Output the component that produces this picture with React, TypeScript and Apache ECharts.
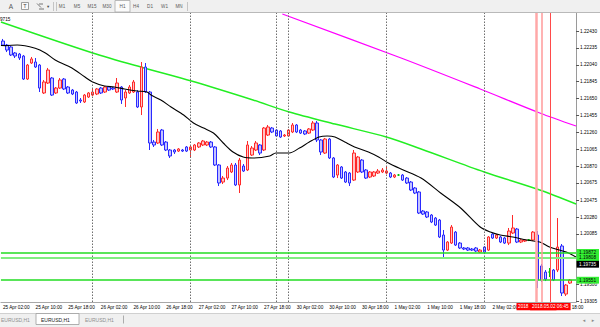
import React, { useEffect, useRef } from "react";
import * as echarts from "echarts";

// ---- time axis (hourly bars) ----
const days = [
  { label: "25 Apr", from: 2, to: 23 },
  { label: "26 Apr", from: 0, to: 23 },
  { label: "27 Apr", from: 0, to: 23 },
  { label: "30 Apr", from: 0, to: 23 },
  { label: "1 May", from: 0, to: 23 },
  { label: "2 May", from: 0, to: 21 },
];
const categories: string[] = [];
for (const d of days) for (let h = d.from; h <= d.to; h++) categories.push(`${d.label} ${String(h).padStart(2, "0")}:00`);
categories.push("");

// ---- OHLC ----
const opens = [
  1.22314, 1.22268, 1.22245, 1.22176, 1.22164, 1.22141, 1.21875, 1.22060, 1.22072, 1.22037,
  1.21714, 1.21829, 1.21887, 1.21714, 1.21771, 1.21875, 1.21783, 1.21748, 1.21725, 1.21633,
  1.21610, 1.21667, 1.21690, 1.21702, 1.21771, 1.21725, 1.21783, 1.21771, 1.21725, 1.21783,
  1.21656, 1.21714, 1.21725, 1.21725, 1.21552, 1.22014, 1.21725, 1.21147, 1.21136, 1.21286,
  1.21147, 1.21055, 1.21055, 1.21043, 1.21055, 1.21090, 1.21055, 1.21055, 1.21090, 1.21113,
  1.21113, 1.21147, 1.21090, 1.20882, 1.20685, 1.20731, 1.20801, 1.20882, 1.20651, 1.20870,
  1.20824, 1.20997, 1.21055, 1.21113, 1.21055, 1.21228, 1.21309, 1.21286, 1.21275, 1.21217,
  1.21217, 1.21263, 1.21344, 1.21286, 1.21275, 1.21251, 1.21286, 1.21367, 1.21171, 1.21020,
  1.21182, 1.20963, 1.20766, 1.20859, 1.20801, 1.20789, 1.20708, 1.20801, 1.20939, 1.20824,
  1.20743, 1.20755, 1.20789, 1.20801, 1.20789, 1.20789, 1.20743, 1.20766, 1.20766, 1.20731,
  1.20685, 1.20616, 1.20570, 1.20350, 1.20339, 1.20304, 1.20269, 1.20246, 1.20073, 1.19899,
  1.19980, 1.20107, 1.19980, 1.19923, 1.19923, 1.19911, 1.19923, 1.19876, 1.19934, 1.19899,
  1.20084, 1.20038, 1.20050, 1.20038, 1.19980, 1.20096, 1.20142, 1.19992, 1.20003, 1.20015,
  1.20015, 1.20073, 1.19715, 1.19645, 1.19645, 1.19668, 1.19668, 1.19946, 1.19391, 1.19518,
];
const closes = [
  1.22268, 1.22210, 1.22153, 1.22141, 1.22118, 1.21875, 1.22037, 1.22107, 1.22014, 1.21771,
  1.21841, 1.21979, 1.21690, 1.21771, 1.21864, 1.21760, 1.21714, 1.21702, 1.21598, 1.21621,
  1.21690, 1.21714, 1.21725, 1.21760, 1.21714, 1.21783, 1.21748, 1.21760, 1.21829, 1.21633,
  1.21725, 1.21783, 1.21841, 1.21552, 1.22014, 1.21725, 1.21136, 1.21113, 1.21263, 1.21113,
  1.21055, 1.20986, 1.21032, 1.21067, 1.21043, 1.21043, 1.21090, 1.21113, 1.21136, 1.21159,
  1.21147, 1.21090, 1.20882, 1.20674, 1.20731, 1.20847, 1.20882, 1.20651, 1.20939, 1.20812,
  1.21113, 1.21078, 1.21136, 1.21020, 1.21309, 1.21321, 1.21263, 1.21217, 1.21205, 1.21228,
  1.21286, 1.21344, 1.21263, 1.21251, 1.21240, 1.21298, 1.21367, 1.21171, 1.21032, 1.21182,
  1.20963, 1.20743, 1.20882, 1.20731, 1.20685, 1.20674, 1.21020, 1.20974, 1.20801, 1.20731,
  1.20801, 1.20801, 1.20812, 1.20824, 1.20812, 1.20743, 1.20766, 1.20766, 1.20708, 1.20674,
  1.20593, 1.20558, 1.20327, 1.20315, 1.20281, 1.20223, 1.20188, 1.20050, 1.19899, 1.19992,
  1.20165, 1.19957, 1.19923, 1.19911, 1.19899, 1.19899, 1.19888, 1.19899, 1.19876, 1.20050,
  1.20038, 1.20073, 1.19992, 1.19980, 1.20119, 1.20154, 1.19992, 1.20015, 1.20015, 1.20015,
  1.20107, 1.19553, 1.19553, 1.19564, 1.19645, 1.19553, 1.19934, 1.19403, 1.19495, 1.19553,
];
const lows = [
  1.22257, 1.22187, 1.22141, 1.22118, 1.22095, 1.21864, 1.21864, 1.22049, 1.22003, 1.21725,
  1.21702, 1.21818, 1.21679, 1.21702, 1.21760, 1.21748, 1.21702, 1.21690, 1.21587, 1.21598,
  1.21598, 1.21656, 1.21679, 1.21690, 1.21702, 1.21714, 1.21737, 1.21748, 1.21714, 1.21587,
  1.21552, 1.21702, 1.21714, 1.21540, 1.21459, 1.21714, 1.21055, 1.21090, 1.21124, 1.21101,
  1.21043, 1.20963, 1.21009, 1.21032, 1.21032, 1.21032, 1.20963, 1.21043, 1.21078, 1.21101,
  1.21101, 1.21078, 1.20870, 1.20639, 1.20662, 1.20708, 1.20789, 1.20639, 1.20558, 1.20801,
  1.20812, 1.20986, 1.21043, 1.20997, 1.21043, 1.21217, 1.21251, 1.21205, 1.21194, 1.21205,
  1.21205, 1.21251, 1.21251, 1.21240, 1.21228, 1.21240, 1.21275, 1.21147, 1.20997, 1.21009,
  1.20951, 1.20731, 1.20731, 1.20720, 1.20674, 1.20639, 1.20697, 1.20789, 1.20789, 1.20720,
  1.20731, 1.20743, 1.20778, 1.20789, 1.20778, 1.20731, 1.20731, 1.20755, 1.20697, 1.20662,
  1.20581, 1.20546, 1.20315, 1.20304, 1.20269, 1.20211, 1.20177, 1.20038, 1.19807, 1.19888,
  1.19969, 1.19946, 1.19911, 1.19899, 1.19888, 1.19888, 1.19876, 1.19865, 1.19853, 1.19888,
  1.20027, 1.20027, 1.19980, 1.19969, 1.19957, 1.20084, 1.19980, 1.19980, 1.19992, 1.20003,
  1.20003, 1.19460, 1.19530, 1.19541, 1.19587, 1.19541, 1.19645, 1.19368, 1.19368, 1.19507,
];
const highs = [
  1.22338, 1.22280, 1.22257, 1.22187, 1.22176, 1.22153, 1.22049, 1.22130, 1.22118, 1.22049,
  1.21864, 1.22003, 1.21898, 1.21783, 1.21887, 1.21887, 1.21794, 1.21760, 1.21737, 1.21656,
  1.21702, 1.21725, 1.21760, 1.21771, 1.21783, 1.21794, 1.21794, 1.21783, 1.21887, 1.21794,
  1.21748, 1.21806, 1.21864, 1.21748, 1.22072, 1.22060, 1.21737, 1.21171, 1.21298, 1.21298,
  1.21159, 1.21067, 1.21067, 1.21078, 1.21067, 1.21101, 1.21101, 1.21124, 1.21147, 1.21171,
  1.21159, 1.21159, 1.21101, 1.20893, 1.20755, 1.20870, 1.20905, 1.20905, 1.20963, 1.20893,
  1.21159, 1.21101, 1.21159, 1.21124, 1.21321, 1.21344, 1.21321, 1.21298, 1.21286, 1.21240,
  1.21298, 1.21367, 1.21355, 1.21298, 1.21286, 1.21309, 1.21390, 1.21390, 1.21182, 1.21194,
  1.21194, 1.20974, 1.20893, 1.20870, 1.20812, 1.20801, 1.21055, 1.20986, 1.20951, 1.20835,
  1.20812, 1.20812, 1.20835, 1.20847, 1.20859, 1.20801, 1.20778, 1.20778, 1.20778, 1.20743,
  1.20697, 1.20627, 1.20581, 1.20362, 1.20350, 1.20315, 1.20281, 1.20258, 1.20131, 1.20003,
  1.20188, 1.20119, 1.19992, 1.19934, 1.19934, 1.19923, 1.19934, 1.19911, 1.19946, 1.20061,
  1.20096, 1.20084, 1.20061, 1.20050, 1.20154, 1.20304, 1.20154, 1.20027, 1.20027, 1.20027,
  1.20119, 1.20119, 1.19738, 1.19668, 1.19692, 1.19680, 1.20269, 1.19969, 1.19507, 1.19564,
];

// ---- indicator lines, read as [bar position, price] ----
const fastMA: [number, number][] = [
  [-0.5, 1.22262], [0.7, 1.22261], [3.5, 1.22268], [7.9, 1.2223], [10.4, 1.22176], [12.8, 1.22095],
  [16.9, 1.22003], [20.1, 1.21898], [22, 1.21841], [24.9, 1.21794], [27.3, 1.21783], [29.8, 1.2176],
  [32.9, 1.21737], [35.3, 1.21725], [36.3, 1.2169], [38.7, 1.21633], [41.2, 1.21552], [44.3, 1.21459],
  [46.7, 1.21367], [49.2, 1.21309], [51.6, 1.21251], [54, 1.21136], [56.4, 1.21032], [58.9, 1.20974],
  [61.3, 1.20963], [65.4, 1.20986], [66.9, 1.2102], [70.2, 1.2102], [72.7, 1.21078], [75.1, 1.21147],
  [77.5, 1.21205], [79.5, 1.21217], [81.4, 1.21205], [83.8, 1.21147], [86.2, 1.2109], [89.6, 1.21032],
  [92.1, 1.20974], [94.5, 1.20905], [97.6, 1.20835], [102.5, 1.20731], [107.3, 1.20558], [112.2, 1.20385],
  [117, 1.20165], [119.5, 1.20107], [121.9, 1.20073], [125, 1.2005], [128.4, 1.20015], [131.6, 1.19992],
  [134, 1.19934], [136.4, 1.19899], [138.1, 1.19876], [140.5, 1.19819],
];
const midMA: [number, number][] = [
  [-0.5, 1.22534], [22, 1.22176], [34.6, 1.22003], [46.2, 1.21852], [61.3, 1.21633], [70.2, 1.21494],
  [81.4, 1.21355], [94, 1.21205], [102.5, 1.21067], [118, 1.20801], [131.6, 1.20593], [140.5, 1.20431],
];
const slowMA: [number, number][] = [
  [68.5, 1.22626], [97.6, 1.22118], [117, 1.2176], [131.6, 1.21483], [140.5, 1.21332],
];

// ---- levels / axis ----
const priceTicks = [1.2243, 1.22235, 1.2204, 1.21845, 1.2165, 1.21455, 1.2126, 1.21065, 1.2087, 1.20675, 1.20475, 1.2028, 1.20085, 1.195, 1.19305];
const greenLevels = [1.19872, 1.19808, 1.19551];
const currentPrice = 1.19735;
const separatorBars = ["26 Apr 00:00", "27 Apr 00:00", "27 Apr 21:00", "30 Apr 00:00", "1 May 00:00", "2 May 00:00"];
const redLines = [130.8, 132.1, 134.2];
const redLineTimes = ["2018", "", "2018.05.02 06:45"];
const tfButtons = ["M1", "M5", "M15", "M30", "H1", "H4", "D1", "W1", "MN"];
const tabs = ["EURUSD,H1", "EURUSD,H1", "EURUSD,H1"];

const FONT = "Liberation Sans, Arial, sans-serif";
const FS = 4.7;

function buildOption() {
  const candleData = opens.map((o, i) => [o, closes[i], lows[i], highs[i]]);
  const levelColors = ["#22dd22", "#7fee7f", "#22dd22"];
  const levelWidths = [1.5, 2, 1.5];

  const sepLines = separatorBars.map((c) => ({
    xAxis: categories.indexOf(c),
    lineStyle: { color: "#6e6e6e", type: [1.5, 1.5], width: 1 },
    label: { show: false },
  }));
  const levelLines = greenLevels.map((v, k) => ({
    yAxis: v,
    lineStyle: { color: levelColors[k], type: "solid", width: levelWidths[k] },
    label: {
      show: true, position: "end", distance: 0.5, formatter: v.toFixed(5),
      backgroundColor: "#33ee33", color: "#000", fontSize: FS, fontFamily: FONT,
      padding: [1, 3, 0.8, 2.5],
    },
  }));
  const priceLine = {
    yAxis: currentPrice,
    lineStyle: { color: "rgba(0,0,0,0)", width: 1, type: "solid" },
    label: {
      show: true, position: "end", distance: 0.5, formatter: currentPrice.toFixed(5),
      backgroundColor: "#000", color: "#fff", fontSize: FS, fontFamily: FONT,
      padding: [1, 3, 0.8, 2.5], opacity: 1,
    },
  };
  const redColors = ["#ffa8a8", "#ff9a9a", "#ff4a4a"];
  const redWidths = [2.5, 1.5, 1];
  const redPads = [[1.2, 28, 1, 1.5], [1.2, 2, 1, 2], [1.2, 2, 1, 2]];
  const vLines = redLines.map((x, k) => ({
    xAxis: x,
    lineStyle: { color: redColors[k], width: redWidths[k], type: "solid" },
    label: redLineTimes[k]
      ? {
          show: true, position: "start", distance: 1, formatter: redLineTimes[k],
          backgroundColor: "#ff0000", color: "#fff", fontSize: FS, fontFamily: FONT,
          padding: redPads[k],
        }
      : { show: false },
  }));

  const graphics: any[] = [
    // toolbar
    { type: "rect", shape: { x: 0, y: 0, width: 600, height: 12.5 }, style: { fill: "#f0f0f0" }, z: 100 },
    { type: "line", shape: { x1: 0, y1: 12.5, x2: 600, y2: 12.5 }, style: { stroke: "#b9b9b9", lineWidth: 1 }, z: 100 },
    { type: "text", x: 11, y: 6.5, style: { text: "A", fontSize: 6.5, fill: "#555", align: "center", verticalAlign: "middle", fontFamily: FONT }, z: 101 },
    { type: "rect", shape: { x: 21.5, y: 2.5, width: 7, height: 7 }, style: { fill: "#fafafa", stroke: "#888", lineWidth: 0.8 }, z: 101 },
    { type: "text", x: 25, y: 6.3, style: { text: "T", fontSize: 5.5, fill: "#444", align: "center", verticalAlign: "middle", fontFamily: FONT }, z: 102 },
    { type: "line", shape: { x1: 37, y1: 3.5, x2: 41, y2: 7.5 }, style: { stroke: "#555", lineWidth: 0.8 }, z: 101 },
    { type: "line", shape: { x1: 39, y1: 4, x2: 43, y2: 4 }, style: { stroke: "#555", lineWidth: 0.8 }, z: 101 },
    { type: "line", shape: { x1: 39, y1: 9, x2: 44, y2: 9 }, style: { stroke: "#555", lineWidth: 0.8 }, z: 101 },
    { type: "text", x: 48, y: 6.5, style: { text: "▾", fontSize: 4.5, fill: "#444", align: "center", verticalAlign: "middle", fontFamily: "DejaVu Sans" }, z: 101 },
    { type: "line", shape: { x1: 53.5, y1: 2, x2: 53.5, y2: 11 }, style: { stroke: "#c4c4c4", lineWidth: 1 }, z: 101 },
    { type: "line", shape: { x1: 56.5, y1: 2, x2: 56.5, y2: 11 }, style: { stroke: "#c4c4c4", lineWidth: 1 }, z: 101 },
    { type: "rect", shape: { x: 115, y: 0.5, width: 15, height: 11.5 }, style: { fill: "#fbfbfb", stroke: "#a9a9a9", lineWidth: 0.8 }, z: 101 },
    { type: "line", shape: { x1: 187.5, y1: 2, x2: 187.5, y2: 11 }, style: { stroke: "#c4c4c4", lineWidth: 1 }, z: 101 },
    ...tfButtons.map((t, k) => ({
      type: "text", x: [62, 77, 92, 107, 122.5, 136, 150, 164.5, 179][k], y: 6.5,
      style: { text: t, fontSize: 4.6, fill: "#5a5a5a", align: "center", verticalAlign: "middle", fontFamily: FONT }, z: 102,
    })),
    { type: "text", x: 0, y: 19, style: { text: "9715", fontSize: FS, fill: "#000", align: "left", verticalAlign: "middle", fontFamily: FONT }, z: 100 },
    // tab strip
    { type: "rect", shape: { x: 0, y: 313, width: 600, height: 14 }, style: { fill: "#f0f0f0" }, z: 100 },
    { type: "line", shape: { x1: 0, y1: 313.5, x2: 600, y2: 313.5 }, style: { stroke: "#d0d0d0", lineWidth: 1 }, z: 100 },
    { type: "rect", shape: { x: 36, y: 313.5, width: 43, height: 11 }, style: { fill: "#ffffff", stroke: "#9c9c9c", lineWidth: 0.8 }, z: 101 },
    ...tabs.map((t, k) => ({
      type: "text", x: [1, 41, 85][k], y: 319.5,
      style: { text: t, fontSize: 5, fill: k === 1 ? "#222" : "#8f8f8f", align: "left", verticalAlign: "middle", fontFamily: FONT }, z: 102,
    })),
    { type: "line", shape: { x1: 123.5, y1: 315.5, x2: 123.5, y2: 323.5 }, style: { stroke: "#9a9a9a", lineWidth: 0.8 }, z: 101 },
    { type: "text", x: 584, y: 319.5, style: { text: "◂", fontSize: 5, fill: "#8a8a8a", align: "center", verticalAlign: "middle", fontFamily: "DejaVu Sans" }, z: 101 },
    { type: "text", x: 593, y: 319.5, style: { text: "▸", fontSize: 5, fill: "#8a8a8a", align: "center", verticalAlign: "middle", fontFamily: "DejaVu Sans" }, z: 101 },
  ];

  const coveredIdx = categories.indexOf("2 May 10:00");
  const partIdx = categories.indexOf("2 May 18:00");

  return {
    animation: false,
    backgroundColor: "#ffffff",
    textStyle: { fontFamily: FONT },
    grid: { left: -4.8125, top: 13, width: 581.625, height: 289, show: false },
    xAxis: [
      {
        type: "category", data: categories, boundaryGap: true,
        axisLine: { show: true, onZero: false, lineStyle: { color: "#a8a8a8", width: 1 } },
        axisTick: { show: false },
        axisLabel: {
          interval: 7, align: "left", fontSize: FS, color: "#000", margin: 2.5, hideOverlap: false, fontFamily: FONT,
          formatter: (v: string, i: number) => {
            if (i === coveredIdx) return "";
            if (i === partIdx) return "{p|" + v.split(" ").slice(2).join(" ") + "}";
            return v;
          },
          rich: { p: { fontSize: FS, color: "#000", fontFamily: FONT, padding: [0, 0, 0, 14] } },
        },
        splitLine: { show: false },
      },
      { type: "value", min: -0.5, max: 140.5, show: false },
    ],
    yAxis: {
      type: "value", position: "right", min: 1.19299, max: 1.22638, scale: true,
      axisLine: { show: true, onZero: false, lineStyle: { color: "#9a9a9a", width: 1 } },
      axisTick: { show: true, length: 3, customValues: priceTicks, lineStyle: { color: "#555" } },
      axisLabel: { customValues: priceTicks, formatter: (v: number) => v.toFixed(5), fontSize: FS, color: "#000", margin: 4, fontFamily: FONT },
      splitLine: { show: false },
    },
    series: [
      {
        type: "line", xAxisIndex: 1, data: midMA, showSymbol: false, smooth: 0.3,
        lineStyle: { color: "#22ee22", width: 1.4 }, z: 2,
        markLine: { silent: true, symbol: "none", animation: false, precision: 6, data: [...sepLines, ...levelLines, priceLine] },
      },
      {
        type: "candlestick", xAxisIndex: 0, data: candleData, barWidth: 3,
        itemStyle: {
          color: "#ffc4c4", color0: "#c4c4ff",
          borderColor: "#ff2a2a", borderColor0: "#2a2aff",
          borderColorDoji: "#00c000", borderWidth: 1,
        },
        z: 3,
      },
      {
        type: "line", xAxisIndex: 1, data: fastMA, showSymbol: false, smooth: 0.3,
        lineStyle: { color: "#000", width: 1.1 }, z: 4,
        markLine: { silent: true, symbol: "none", animation: false, precision: 6, data: vLines },
      },
      { type: "line", xAxisIndex: 1, data: slowMA, showSymbol: false, smooth: 0.3, lineStyle: { color: "#ff00ff", width: 1.2 }, z: 4 },
    ],
    graphic: { elements: graphics },
  };
}

export default function App() {
  const ref = useRef<HTMLDivElement>(null);
  useEffect(() => {
    if (!ref.current) return;
    const chart = echarts.init(ref.current, null, { renderer: "svg" });
    chart.setOption(buildOption() as any);
    return () => chart.dispose();
  }, []);
  return (
    <div
      ref={ref}
      style={{ position: "fixed", left: 0, top: 0, width: 600, height: 327, background: "#fff" }}
    />
  );
}
